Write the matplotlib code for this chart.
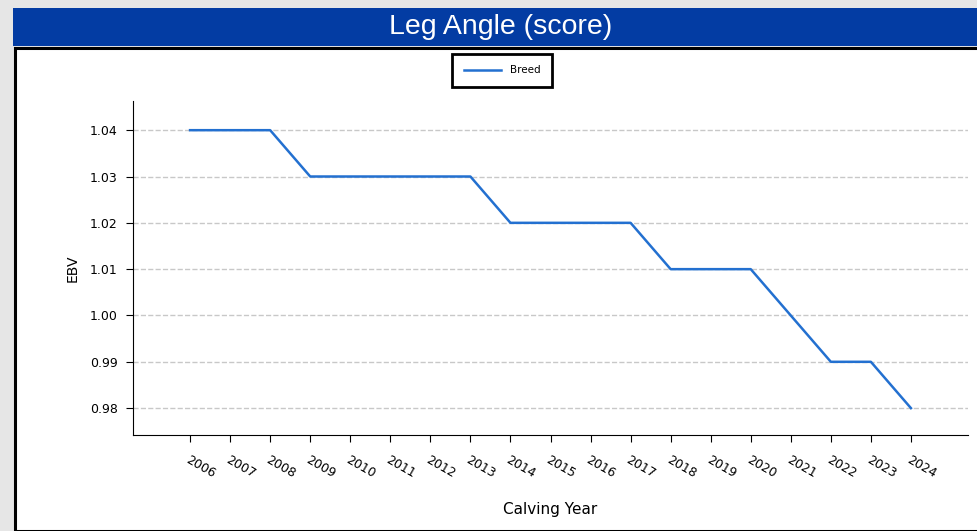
import matplotlib
matplotlib.use("Agg")
import matplotlib.pyplot as plt
from matplotlib.patches import Rectangle

# data
years = [2006, 2007, 2008, 2009, 2010, 2011, 2012, 2013, 2014, 2015,
         2016, 2017, 2018, 2019, 2020, 2021, 2022, 2023, 2024]
ebv = [1.04, 1.04, 1.04, 1.03, 1.03, 1.03, 1.03, 1.03, 1.02, 1.02,
       1.02, 1.02, 1.01, 1.01, 1.01, 1.00, 0.99, 0.99, 0.98]
y_ticks = [0.98, 0.99, 1.00, 1.01, 1.02, 1.03, 1.04]

W, H = 977, 531
fig = plt.figure(figsize=(W / 100, H / 100), dpi=100, facecolor="#e6e6e6")

# banner and white panel (behind the axes)
fig.patches.append(Rectangle((13 / W, 1 - 46 / H), 1 - 13 / W, 38 / H,
                             transform=fig.transFigure, facecolor="#033ca3",
                             edgecolor="none", zorder=-2))
fig.patches.append(Rectangle((15.5 / W, 0), 1, 1 - 48 / H,
                             transform=fig.transFigure, facecolor="white",
                             edgecolor="black", linewidth=2.2, zorder=-2))
fig.text(501 / W, 1 - 27 / H, "Leg Angle (score)", color="white",
         fontsize=20.5, family="Liberation Sans", ha="center", va="center")

ax = fig.add_axes([133 / W, 1 - 435 / H, (968 - 133) / W, (435 - 101) / H])
ax.patch.set_alpha(0)
ax.plot(years, ebv, color="#2370d0", linewidth=1.8, label="Breed")

ax.set_xlim(2004.575, 2025.425)
ax.set_ylim(0.9742, 1.0463)
ax.set_xticks(years)
ax.set_xticklabels([str(y) for y in years], rotation=-30, ha="left",
                   rotation_mode="anchor", fontsize=9)
ax.set_yticks(y_ticks)
ax.set_yticklabels(["%.2f" % v for v in y_ticks], fontsize=9)
ax.tick_params(axis="x", length=5, pad=8)
ax.tick_params(axis="y", length=5, pad=6)
ax.yaxis.grid(True, linestyle="--", color="#c8c8c8", linewidth=1)
ax.set_axisbelow(True)
for s in ["top", "right"]:
    ax.spines[s].set_visible(False)

ax.set_xlabel("Calving Year", fontsize=11, labelpad=16)
ax.set_ylabel("EBV", fontsize=10, labelpad=7)

leg = fig.legend(loc="center", bbox_to_anchor=(502 / W, 1 - 70.5 / H),
                 fontsize=7.5, fancybox=False, framealpha=1,
                 handlelength=3.6, borderpad=1.1)
leg.get_frame().set_edgecolor("black")
leg.get_frame().set_linewidth(2)

fig.savefig("out.png", dpi=100, facecolor=fig.get_facecolor())
